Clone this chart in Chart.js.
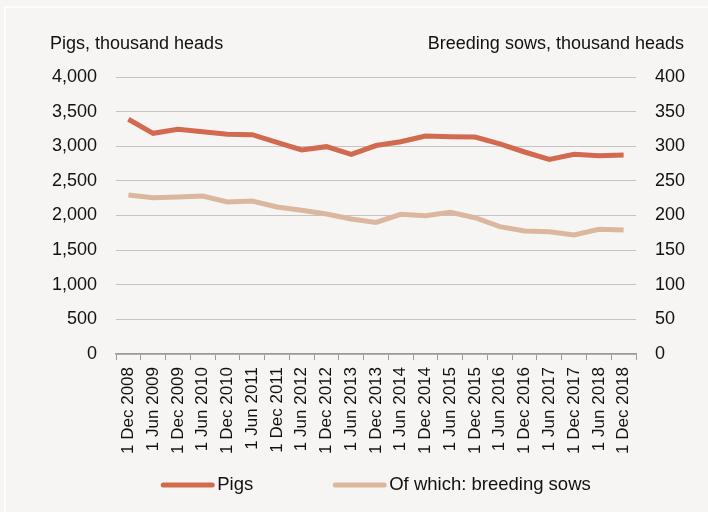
<!DOCTYPE html>
<html>
<head>
<meta charset="utf-8">
<script src="https://cdn.jsdelivr.net/npm/chart.js@4.4.1/dist/chart.umd.min.js"></script>
<style>
  html, body { margin: 0; padding: 0; background: #f6f5f3; }
  #wrap { position: relative; width: 708px; height: 512px; }
  #frame { position: absolute; left: 4px; top: 6px; right: 0; bottom: 0;
           border-left: 2px solid #fdfdfc; border-top: 2px solid #fdfdfc; }
  canvas { position: absolute; left: 0; top: 0; }
</style>
</head>
<body>
<div id="wrap">
  <div id="frame"></div>
  <canvas id="chart" width="708" height="512"></canvas>
</div>
<script>
const labels = [
  '1 Dec 2008', '1 Jun 2009', '1 Dec 2009', '1 Jun 2010', '1 Dec 2010', '1 Jun 2011',
  '1 Dec 2011', '1 Jun 2012', '1 Dec 2012', '1 Jun 2013', '1 Dec 2013', '1 Jun 2014',
  '1 Dec 2014', '1 Jun 2015', '1 Dec 2015', '1 Jun 2016', '1 Dec 2016', '1 Jun 2017',
  '1 Dec 2017', '1 Jun 2018', '1 Dec 2018'
];
const pigs = [
  3390, 3187, 3245, 3210, 3172, 3167, 3057, 2946, 2994, 2883, 3010,
  3065, 3148, 3138, 3134, 3033, 2917, 2811, 2883, 2864, 2874
];
const sows = [
  229.6, 225.7, 226.7, 228.2, 219.5, 220.9, 212.3, 207.5, 202.2, 195, 190,
  201.7, 199.7, 204.6, 196.8, 183.9, 177.6, 176.6, 171.8, 180, 179
];
const leftTitle = 'Pigs, thousand heads';
const rightTitle = 'Breeding sows, thousand heads';

const font = 'Liberation Sans, Arial, sans-serif';

// axis titles above both y axes
const axisTitles = {
    id: 'axisTitles',
    afterDraw(chart) {
        const c = chart.ctx;
        c.save();
        c.fillStyle = '#111';
        c.font = '18px ' + font;
        c.textBaseline = 'middle';
        c.textAlign = 'left';
        c.fillText(leftTitle, 50, 44);
        c.textAlign = 'right';
        c.fillText(rightTitle, 684, 44);
        c.restore();
    }
};

// legend centred under the plot area, lines with tight text gap
const lineLegend = {
    id: 'lineLegend',
    afterDraw(chart) {
        const c = chart.ctx;
        const area = chart.chartArea;
        const sets = chart.data.datasets;
        const boxW = 53, textGap = 3, itemGap = 80, y = 485;
        c.save();
        c.font = '18.5px ' + font;
        c.textBaseline = 'middle';
        c.textAlign = 'left';
        const widths = sets.map(d => c.measureText(d.label).width);
        let total = 0;
        widths.forEach((w, i) => { total += boxW + textGap + w + (i ? itemGap : 0); });
        let x = (area.left + area.right) / 2 - total / 2;
        sets.forEach((d, i) => {
            c.strokeStyle = d.borderColor;
            c.lineWidth = 5;
            c.lineCap = 'round';
            c.beginPath();
            c.moveTo(x + 2, y);
            c.lineTo(x + boxW - 2, y);
            c.stroke();
            c.fillStyle = '#111';
            c.fillText(d.label, x + boxW + textGap, y);
            x += boxW + textGap + widths[i] + itemGap;
        });
        c.restore();
    }
};

new Chart(document.getElementById('chart').getContext('2d'), {
    type: 'line',
    data: {
        labels: labels,
        datasets: [
            {
                label: 'Pigs',
                data: pigs,
                borderColor: '#d26a50',
                backgroundColor: '#d26a50',
                borderWidth: 5,
                pointRadius: 0,
                tension: 0,
                yAxisID: 'y'
            },
            {
                label: 'Of which: breeding sows',
                data: sows,
                borderColor: '#dcb79f',
                backgroundColor: '#dcb79f',
                borderWidth: 5,
                pointRadius: 0,
                tension: 0,
                yAxisID: 'y1'
            }
        ]
    },
    options: {
        responsive: false,
        animation: false,
        layout: { padding: { top: 77, left: 0, right: 0, bottom: 48 } },
        plugins: {
            legend: { display: false },
            tooltip: { enabled: false }
        },
        scales: {
            x: {
                offset: true,
                afterFit(scale) { scale.height = 110; },
                grid: { drawOnChartArea: false, drawTicks: true, tickLength: 6, color: '#999', offset: true },
                border: { color: '#999', width: 1.5 },
                ticks: {
                    color: '#111',
                    font: { family: font, size: 17 },
                    maxRotation: 90,
                    minRotation: 90,
                    autoSkip: false,
                    padding: 7
                }
            },
            y: {
                position: 'left',
                min: 0,
                max: 4000,
                afterFit(scale) { scale.width = 116; },
                grid: { color: '#c4c4c4', drawTicks: false },
                border: { display: false },
                ticks: {
                    stepSize: 500,
                    color: '#111',
                    font: { family: font, size: 18 },
                    padding: 19,
                    callback: v => v.toLocaleString('en-US')
                }
            },
            y1: {
                position: 'right',
                min: 0,
                max: 400,
                afterFit(scale) { scale.width = 72; },
                grid: { drawOnChartArea: false, drawTicks: false },
                border: { display: false },
                ticks: {
                    stepSize: 50,
                    color: '#111',
                    font: { family: font, size: 18 },
                    padding: 19
                }
            }
        }
    },
    plugins: [axisTitles, lineLegend]
});
</script>
</body>
</html>
